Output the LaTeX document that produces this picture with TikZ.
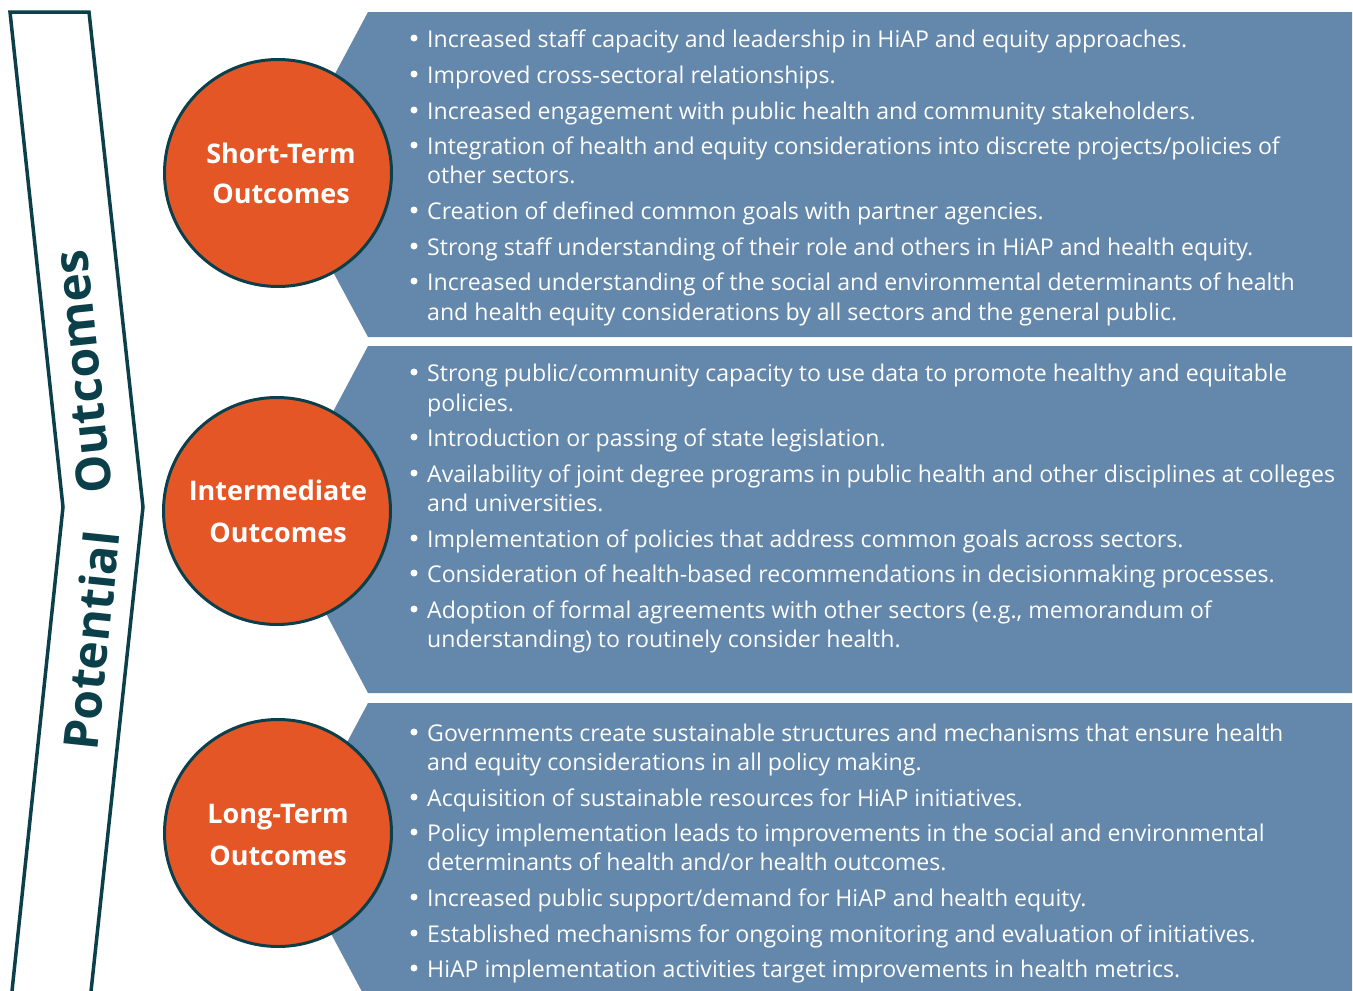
\documentclass[tikz,border=0pt]{standalone}
\usepackage{fontspec}
\setmainfont{Open Sans}
\definecolor{panelblue}{HTML}{6487AC}
\definecolor{circorange}{HTML}{E55626}
\definecolor{darkteal}{HTML}{0B3F4A}
\newcommand\bitem[3]{%
  \node[bul] (#1b) at (414,#2-9) {};
  \node[txt] (#1) at (427,#2) {#3};}
\newcommand\bcont[3]{\node[txt] (#1) at (427,#2) {#3};}
\begin{document}
\begin{tikzpicture}[x=1pt,y=-1pt,
  panel/.style={fill=panelblue},
  circ/.style={circle,draw=darkteal,line width=3pt,fill=circorange,minimum size=227pt,inner sep=0pt},
  clab/.style={anchor=base,inner sep=0pt,text=white,font=\fontsize{27}{32}\selectfont\bfseries},
  txt/.style={anchor=base west,inner sep=0pt,text=white,font=\fontsize{23.1}{28}\selectfont},
  bul/.style={circle,fill=white,inner sep=0pt,minimum size=7pt},
  chev/.style={draw=darkteal,line width=3.5pt,fill=white,line join=miter},
  side/.style={anchor=base,inner sep=0pt,text=darkteal,font=\fontsize{48}{56}\selectfont\bfseries}]
\useasboundingbox (0,0) rectangle (1353,991);
% left chevron
\draw[chev] (10,1010) -- (63,507) -- (10,12) -- (89,12) -- (143,507) -- (89,1010);
\node[side,rotate=96] (outc) at (100,370) {Outcomes};
\node[side,rotate=84] (pot) at (109,642) {Potential};
% panels
\fill[panel] (368,12) -- (1352,12) -- (1352,337) -- (368,337) -- (281,175) -- cycle;
\fill[panel] (368,346) -- (1352,346) -- (1352,693) -- (368,693) -- (276,519) -- cycle;
\fill[panel] (368,703) -- (1352,703) -- (1352,1003) -- (368,1003) -- (288,853) -- cycle;
% circles
\node[circ] (c1) at (278,173) {};
\node[circ] (c2) at (277,511) {};
\node[circ] (c3) at (278,833) {};
\node[clab] (c1a) at (281,163) {Short-Term};
\node[clab] (c1b) at (281,203) {Outcomes};
\node[clab] (c2a) at (278,500) {Intermediate};
\node[clab] (c2b) at (278,542) {Outcomes};
\node[clab] (c3a) at (278,823) {Long-Term};
\node[clab] (c3b) at (278,865) {Outcomes};
% panel 1
\bitem{a1}{47}{Increased staff capacity and leadership in HiAP and equity approaches.}
\bitem{a2}{83}{Improved cross-sectoral relationships.}
\bitem{a3}{119}{Increased engagement with public health and community stakeholders.}
\bitem{a4}{154}{Integration of health and equity considerations into discrete projects/policies of}
\bcont{a4c}{183}{other sectors.}
\bitem{a5}{219}{Creation of defined common goals with partner agencies.}
\bitem{a6}{255}{Strong staff understanding of their role and others in HiAP and health equity.}
\bitem{a7}{290}{Increased understanding of the social and environmental determinants of health}
\bcont{a7c}{320}{and health equity considerations by all sectors and the general public.}
% panel 2
\bitem{b1}{381}{Strong public/community capacity to use data to promote healthy and equitable}
\bcont{b1c}{411}{policies.}
\bitem{b2}{446}{Introduction or passing of state legislation.}
\bitem{b3}{482}{Availability of joint degree programs in public health and other disciplines at colleges}
\bcont{b3c}{511}{and universities.}
\bitem{b4}{547}{Implementation of policies that address common goals across sectors.}
\bitem{b5}{582}{Consideration of health-based recommendations in decisionmaking processes.}
\bitem{b6}{618}{Adoption of formal agreements with other sectors (e.g., memorandum of}
\bcont{b6c}{647}{understanding) to routinely consider health.}
% panel 3
\bitem{d1}{741}{Governments create sustainable structures and mechanisms that ensure health}
\bcont{d1c}{770}{and equity considerations in all policy making.}
\bitem{d2}{806}{Acquisition of sustainable resources for HiAP initiatives.}
\bitem{d3}{841}{Policy implementation leads to improvements in the social and environmental}
\bcont{d3c}{870}{determinants of health and/or health outcomes.}
\bitem{d4}{906}{Increased public support/demand for HiAP and health equity.}
\bitem{d5}{942}{Established mechanisms for ongoing monitoring and evaluation of initiatives.}
\bitem{d6}{977}{HiAP implementation activities target improvements in health metrics.}
\end{tikzpicture}
\end{document}
